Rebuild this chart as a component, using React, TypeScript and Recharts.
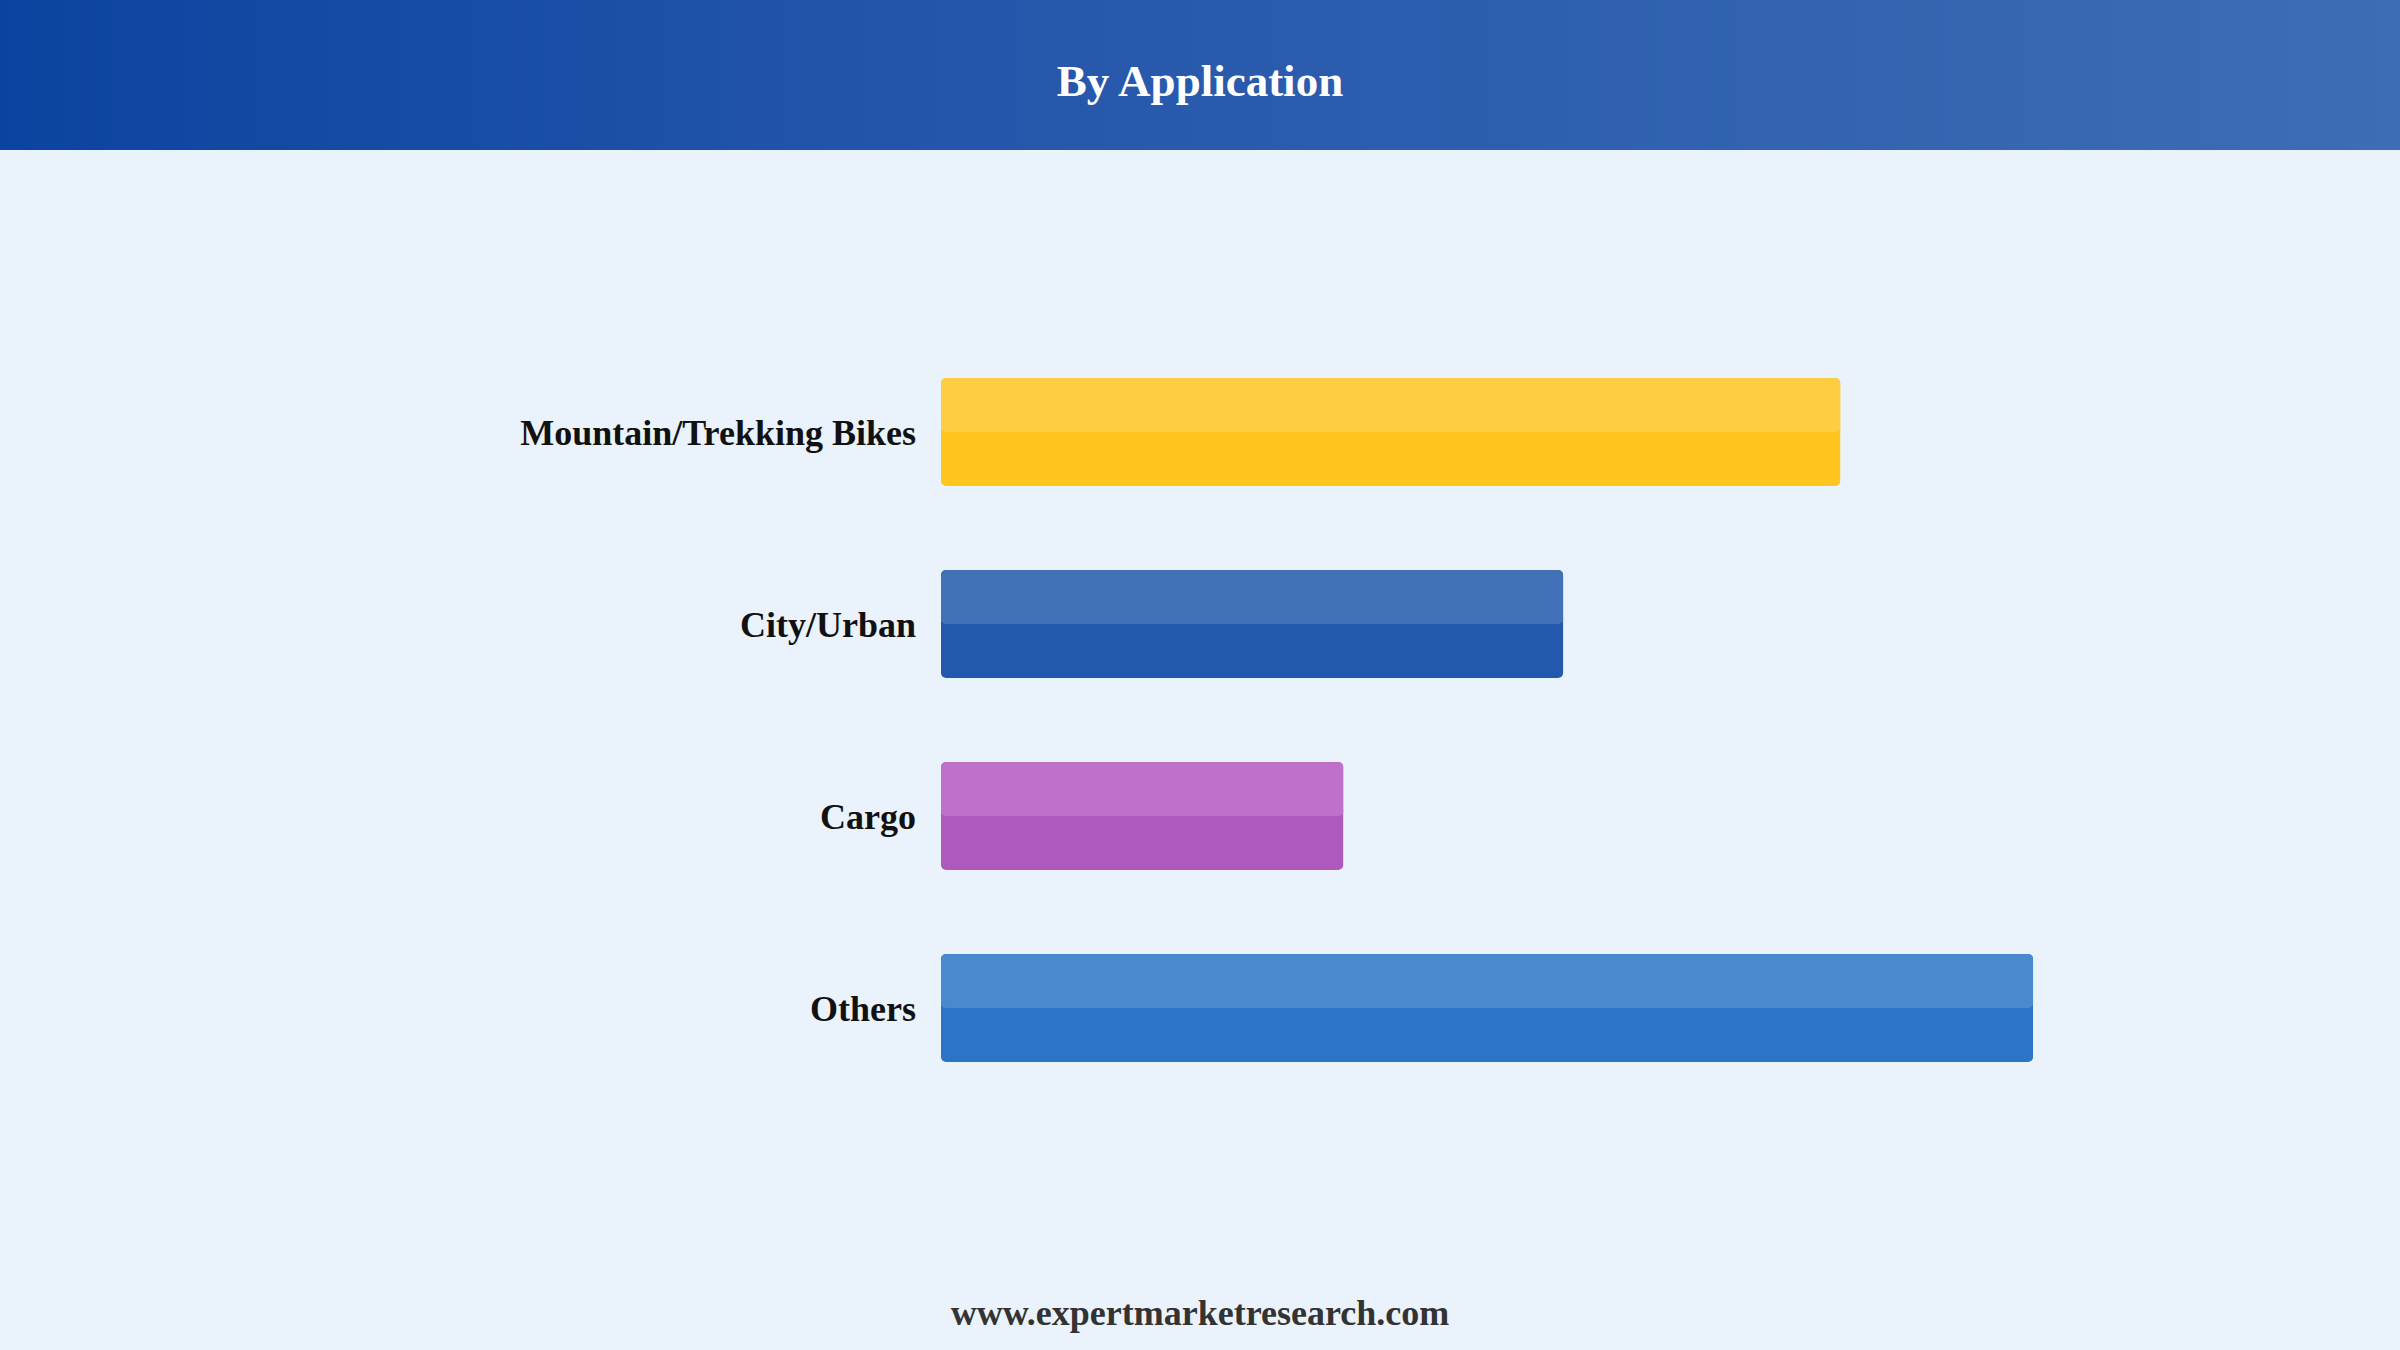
import React from 'react';
import { BarChart, Bar, XAxis, YAxis, Cell } from 'recharts';

const categories = ['Mountain/Trekking Bikes', 'City/Urban', 'Cargo', 'Others'];
const shares = [29.85, 20.65, 13.35, 36.25];

const BASE_COLORS = ['#FEC61F', '#2359AD', '#AF59BF', '#2B74C6'];
const TOP_COLORS = ['#FECD42', '#4172B8', '#BF71C9', '#4A89CF'];

const FONT = '"Liberation Serif", "Times New Roman", serif';

const data = categories.map((name, i) => ({ name, value: shares[i] }));

function GlossBar(props: any) {
  const { x, y, width, height, index } = props;
  if (!width || width <= 0) return null;
  return (
    <g>
      <rect x={x} y={y} width={width} height={height} rx={5} ry={5} fill={BASE_COLORS[index]} />
      <rect x={x} y={y} width={width} height={height / 2} rx={5} ry={5} fill={TOP_COLORS[index]} />
      <rect x={x} y={y + height / 2 - 6} width={width} height={4} fill={TOP_COLORS[index]} />
    </g>
  );
}

export default function App() {
  return (
    <div
      style={{
        position: 'absolute',
        left: 0,
        top: 0,
        width: 2400,
        height: 1350,
        background: '#EAF2FC',
        fontFamily: FONT,
        overflow: 'hidden',
      }}
    >
      <div
        style={{
          height: 150,
          background: 'linear-gradient(90deg, #0B44A0 0%, #2556AB 40%, #3D6DB5 100%)',
          display: 'flex',
          alignItems: 'center',
          justifyContent: 'center',
          paddingTop: 12,
          boxSizing: 'border-box',
          color: '#ffffff',
          fontWeight: 'bold',
          fontSize: 45,
        }}
      >
        By Application
      </div>

      <BarChart
        width={2400}
        height={1200}
        data={data}
        layout="vertical"
        margin={{ top: 186, right: 254, bottom: 246, left: 0 }}
      >
        <XAxis type="number" domain={[0, 40]} hide />
        <YAxis
          type="category"
          dataKey="name"
          width={941}
          axisLine={false}
          tickLine={false}
          tickSize={0}
          tickMargin={25}
          tick={{ fill: '#111111', fontSize: 36, fontWeight: 'bold', fontFamily: FONT }}
        />
        <Bar dataKey="value" barSize={108} shape={<GlossBar />} isAnimationActive={false}>
          {data.map((d, i) => (
            <Cell key={d.name} fill={BASE_COLORS[i]} />
          ))}
        </Bar>
      </BarChart>

      <div
        style={{
          position: 'absolute',
          left: 0,
          width: 2400,
          top: 1292,
          textAlign: 'center',
          fontSize: 36,
          fontWeight: 'bold',
          color: '#333333',
        }}
      >
        www.expertmarketresearch.com
      </div>
    </div>
  );
}
